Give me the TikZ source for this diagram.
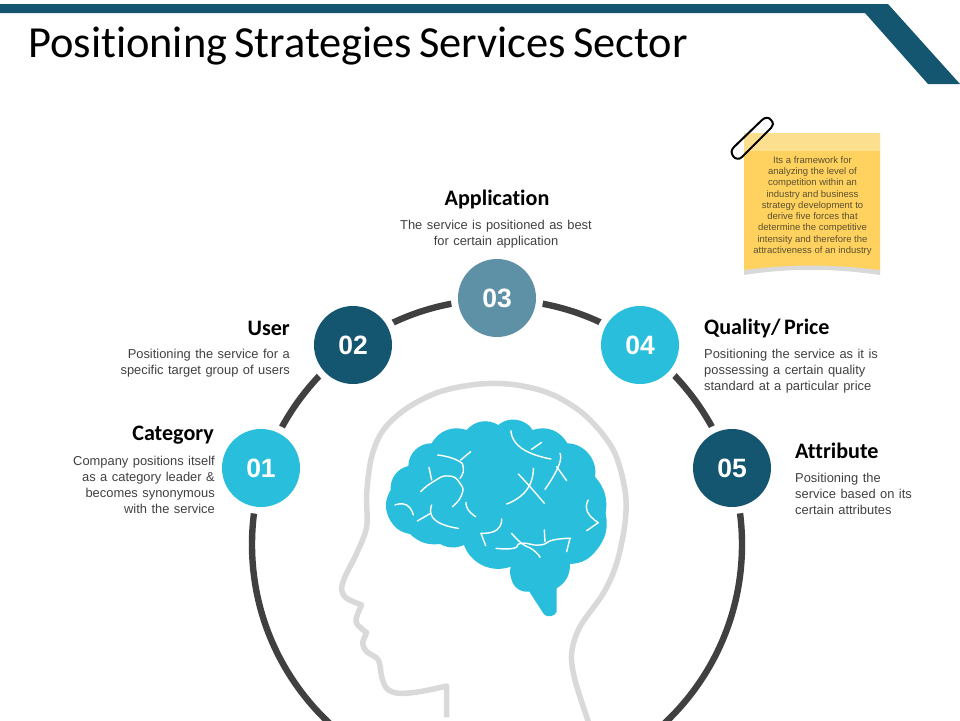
\documentclass[tikz,border=0pt]{standalone}
\usepackage{fontspec}
\setmainfont{Liberation Sans}
\newfontfamily\titlefont[WordSpace=0.5,Ligatures=NoCommon]{Carlito}
\newfontfamily\headfont[WordSpace=0.7,Ligatures=NoCommon]{Carlito}
\newfontfamily\bodyfont[WordSpace=1.25]{Liberation Sans}
\definecolor{barblue}{HTML}{14566F}
\definecolor{cyanc}{HTML}{29BEDC}
\definecolor{midblue}{HTML}{5F91A6}
\definecolor{ringc}{HTML}{404040}
\definecolor{headc}{HTML}{D9D9D9}
\definecolor{notec}{HTML}{FFD25F}
\definecolor{notetop}{HTML}{FDE08F}
\definecolor{notetxt}{HTML}{5A5030}
\tikzset{
 numc/.style={circle,minimum size=78pt,inner sep=0pt,text=white,font=\fontsize{26.5}{26.5}\selectfont\bfseries},
 halo/.style={circle,fill=white,minimum size=92pt,inner sep=0pt},
 headt/.style={inner sep=0pt,font=\headfont\fontsize{22.1}{24}\selectfont\bfseries,text=black},
 bodyt/.style={inner sep=0pt,font=\bodyfont\fontsize{12.9}{16}\selectfont,text=ringc},
 vein/.style={draw=white,line width=1.4pt,line cap=round,line join=round},
}
\begin{document}
\begin{tikzpicture}[x=1pt,y=-1pt]
\useasboundingbox (0,0) rectangle (960,720);
\clip (0,0) rectangle (960,720);
% top bar
\fill[barblue] (0,4) -- (888,4) -- (960,84) -- (928,84) -- (865,13) -- (0,13) -- cycle;
\node[anchor=west,inner sep=0pt,font=\titlefont\fontsize{44.4}{44.4}\selectfont] (title) at (28,46) {Positioning Strategies Services Sector};
% ring
\coordinate (ringc) at (497,544.5);
\draw[ringc,line width=6.4pt] (ringc) circle[radius=245pt];
% head
\begin{scope}[shift={(340,380)},x=0.3333pt,y=-0.3333pt]
\draw[headc,line width=5.5pt,line join=round] plot[smooth,tension=.55] coordinates{(745,1025)(705,900)(695,820)(720,740)(790,640)(830,550)(855,430)(855,330)(820,210)(740,110)(640,45)(530,15)(420,12)(300,35)(200,85)(130,150)(95,230)(80,340)(80,440)(50,520)(15,590)(5,630)(20,655)(65,675)} -- plot[smooth,tension=.55] coordinates{(65,675)(48,725)(80,758)} -- plot[smooth,tension=.55] coordinates{(80,758)(68,790)(80,815)(115,840)(125,890)(140,925)(175,940)(240,935)(320,918)} -- (320,1012);
\fill[cyanc] (205,258) to[bend left=45] (275,190) to[bend left=40] (380,150) to[bend left=40] (475,135) to[bend left=50] (578,150) to[bend left=40] (682,190) to[bend left=50] (765,290) to[bend left=25] (797,400) to[bend left=25] (770,510) to[bend left=25] (690,552) to[bend left=30] (650,625) -- (650,695) to[bend left=60] (612,703) -- (568,635) to[bend left=40] (515,600) to[bend left=15] (512,560) to[bend left=45] (372,495) to[bend left=25] (300,492) to[bend left=25] (210,462) to[bend left=25] (150,420) to[bend left=30] (152,330) to[bend left=40] (205,258) -- cycle;
\begin{scope}[smooth,tension=1]
\draw[vein] plot coordinates{(513,152)(545,205)(633,237)};
\draw[vein] plot coordinates{(575,208)(605,187)};
\draw[vein] plot coordinates{(660,220)(655,260)(615,328)};
\draw[vein] plot coordinates{(650,260)(680,302)};
\draw[vein] plot coordinates{(580,265)(560,330)(500,372)};
\draw[vein] plot coordinates{(535,282)(570,320)(613,370)};
\draw[vein] plot coordinates{(293,225)(350,240)(370,265)(360,295)};
\draw[vein] plot coordinates{(362,240)(392,215)};
\draw[vein] plot coordinates{(242,335)(280,305)(325,288)(360,310)(365,345)(337,380)};
\draw[vein] plot coordinates{(267,262)(275,300)};
\draw[vein] plot coordinates{(165,375)(200,375)(220,405)};
\draw[vein] plot coordinates{(232,423)(272,400)};
\draw[vein] plot coordinates{(275,375)(285,420)(355,445)};
\draw[vein] plot coordinates{(378,367)(385,390)(407,410)};
\draw[vein] plot coordinates{(485,417)(470,450)(423,460)};
\draw[vein] plot coordinates{(468,505)(520,505)(545,490)(600,495)(640,480)(692,475)};
\draw[vein] plot coordinates{(515,460)(545,490)(580,510)(600,532)};
\draw[vein] plot coordinates{(745,360)(742,395)(775,428)};
\end{scope}
\draw[vein] (423,460) -- (437,497);
\draw[vein] (613,450) -- (615,485);
\draw[vein] (680,515) -- (690,475);
\draw[vein] (775,428) -- (740,452);
\end{scope}
% note
\fill[gray!30] (744,262) -- (880,262) -- (880,275) .. controls (830,268) and (790,268) .. (744,275) -- cycle;
\fill[notec] (744,133) -- (880,133) -- (880,270) .. controls (830,264) and (790,264) .. (744,270) -- cycle;
\fill[notetop] (744,133) rectangle (880,151);
\node[inner sep=0pt,align=center,text=notetxt,font=\fontsize{9.5}{11.25}\selectfont] (note) at (812.5,206) {Its a framework for\\analyzing the level of\\competition within an\\industry and business\\strategy development to\\derive five forces that\\determine the competitive\\intensity and therefore the\\attractiveness of an industry};
% clip
\draw[black,line width=2pt,line join=round,line cap=round] (760,139) -- (742,157) .. controls (739,160) and (735,159) .. (733,156) .. controls (731,153) and (731,150) .. (734,147) -- (762,120) .. controls (765,117) and (769,117) .. (771,120) .. controls (774,123) and (773,126) .. (771,128) -- (760,139);
% circles
\foreach \n/\x/\y in {h1/261/468,h2/353/345,h3/497/298,h4/640/345,h5/732/468}
 \node[halo] (\n) at (\x,\y) {};
\node[numc,fill=cyanc] (c1) at (h1) {\raisebox{-1pt}{01}};
\node[numc,fill=barblue] (c2) at (h2) {\raisebox{-1pt}{02}};
\node[numc,fill=midblue] (c3) at (h3) {\raisebox{-1pt}{03}};
\node[numc,fill=cyanc] (c4) at (h4) {\raisebox{-1pt}{04}};
\node[numc,fill=barblue] (c5) at (h5) {\raisebox{-1pt}{05}};
% text
\node[headt,anchor=center] (t3) at (497,199.5) {Application};
\node[bodyt,align=center,anchor=north] (b3) at (496,219.5) {The service is positioned as best\\for certain application};
\node[headt,anchor=east] (t2) at (290,328) {User};
\node[bodyt,align=right,anchor=north east] (b2) at (290,349) {Positioning the service for a\\specific target group of users};
\node[headt,anchor=east] (t1) at (214,435) {Category};
\node[bodyt,align=right,anchor=north east] (b1) at (215,456) {Company positions itself\\as a category leader \&\\becomes synonymous\\with the service};
\node[headt,anchor=west] (t4) at (704,328) {Quality/ Price};
\node[bodyt,align=left,anchor=north west] (b4) at (704,349) {Positioning the service as it is\\possessing a certain quality\\standard at a particular price};
\node[headt,anchor=west] (t5) at (795,451) {Attribute};
\node[bodyt,align=left,anchor=north west] (b5) at (795,472.5) {Positioning the\\service based on its\\certain attributes};
\end{tikzpicture}
\end{document}
